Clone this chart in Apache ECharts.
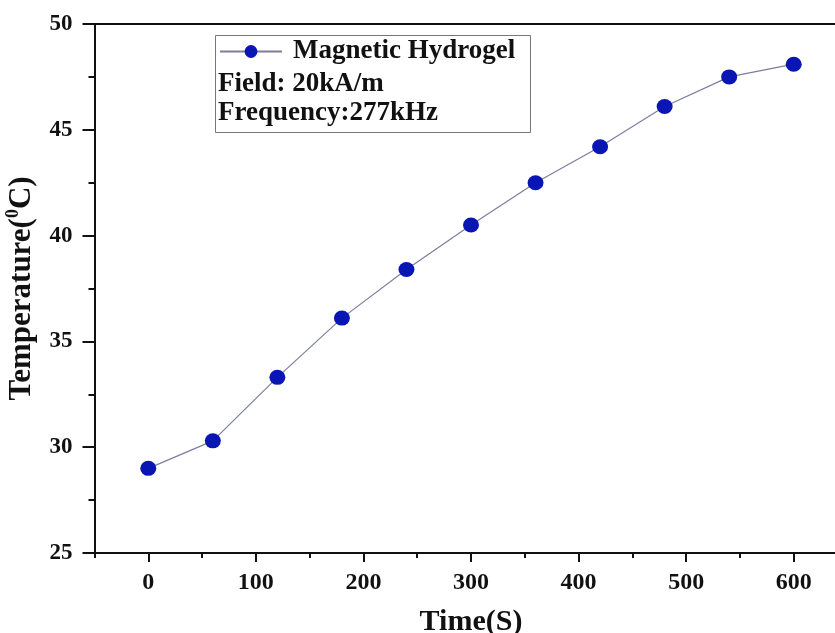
<!DOCTYPE html>
<html>
<head>
<meta charset="utf-8">
<script src="https://cdn.jsdelivr.net/npm/echarts@6/dist/echarts.min.js"></script>
<style>html,body{margin:0;padding:0;background:#fff;}#c{width:835px;height:633px;}</style>
</head>
<body>
<div id="c"></div>
<script>
var times = [0, 60, 120, 180, 240, 300, 360, 420, 480, 540, 600];
var temperatures = [29.0, 30.3, 33.3, 36.1, 38.4, 40.5, 42.5, 44.2, 46.1, 47.5, 48.1];
var xTicks = [0, 100, 200, 300, 400, 500, 600];
var xMinorTicks = [-50, 50, 150, 250, 350, 450, 550, 650];
var seriesName = 'Magnetic Hydrogel';
var legendLines = ['Field: 20kA/m', 'Frequency:277kHz'];
var xName = 'Time(S)';

var FONT = "'Liberation Serif','Times New Roman',serif";
var chart = echarts.init(document.getElementById('c'), null, {renderer: 'canvas'});
var grid = {left: 94.5, top: 24, width: 753, height: 529, containLabel: false, outerBoundsMode: 'none'};
var xBase = {type: 'value', min: -50, max: 650, splitLine: {show: false}};

chart.setOption({
  animation: false,
  backgroundColor: '#fff',
  grid: grid,
  legend: {
    data: [seriesName], left: 219, top: 38, padding: 0,
    itemWidth: 62, itemHeight: 16,
    textStyle: {fontFamily: FONT, fontWeight: 'bold', fontSize: 27, color: '#111', padding: [0, 0, 0, 6]}
  },
  graphic: [
    {type: 'rect', left: 213, top: 33, shape: {width: 315, height: 97}, style: {fill: 'none', stroke: '#777', lineWidth: 1}, z: 5},
    {type: 'text', style: {x: 218, y: 84, text: legendLines[0], fontFamily: FONT, fontWeight: 'bold', fontSize: 27, fill: '#111', textVerticalAlign: 'middle'}, z: 5},
    {type: 'text', style: {x: 218, y: 113, text: legendLines[1], fontFamily: FONT, fontWeight: 'bold', fontSize: 27, fill: '#111', textVerticalAlign: 'middle'}, z: 5}
  ],
  xAxis: [
    Object.assign({}, xBase, {
      position: 'bottom',
      name: xName, nameLocation: 'middle', nameGap: 54,
      nameTextStyle: {fontFamily: FONT, fontWeight: 'bold', fontSize: 30, color: '#111'},
      axisLine: {show: true, onZero: false, lineStyle: {color: '#111', width: 2}},
      axisTick: {show: true, length: 9, customValues: xTicks, lineStyle: {color: '#111', width: 2}},
      axisLabel: {customValues: xTicks, margin: 18, fontFamily: FONT, fontWeight: 'bold', fontSize: 24, color: '#111'}
    }),
    Object.assign({}, xBase, {
      position: 'bottom',
      axisLine: {show: false, onZero: false},
      axisTick: {show: true, length: 5, customValues: xMinorTicks, lineStyle: {color: '#111', width: 2}},
      axisLabel: {show: false}
    }),
    Object.assign({}, xBase, {
      position: 'top',
      axisLine: {show: true, onZero: false, lineStyle: {color: '#111', width: 2}},
      axisTick: {show: false},
      axisLabel: {show: false}
    })
  ],
  yAxis: [{
    type: 'value', min: 25, max: 50, interval: 5,
    position: 'left',
    name: 'Temperature({sup|0}C)', nameLocation: 'middle', nameGap: 52,
    nameTextStyle: {
      fontFamily: FONT, fontWeight: 'bold', fontSize: 31, color: '#111', lineHeight: 34,
      rich: {sup: {fontFamily: FONT, fontWeight: 'bold', fontSize: 18, color: '#111', verticalAlign: 'top', lineHeight: 18}}
    },
    splitLine: {show: false},
    axisLine: {show: true, onZero: false, lineStyle: {color: '#111', width: 2}},
    axisTick: {show: true, length: 12, lineStyle: {color: '#111', width: 2}},
    minorTick: {show: true, splitNumber: 2, length: 6, lineStyle: {color: '#111', width: 2}},
    axisLabel: {margin: 22, fontFamily: FONT, fontWeight: 'bold', fontSize: 23, color: '#111'}
  }],
  series: [{
    name: seriesName,
    type: 'line',
    xAxisIndex: 0,
    data: times.map(function (t, i) { return [t, temperatures[i]]; }),
    symbol: 'circle',
    symbolSize: [16, 15],
    itemStyle: {color: '#0a16b4'},
    lineStyle: {color: '#7d7d9e', width: 1.2},
    z: 3
  }]
});
</script>
</body>
</html>
